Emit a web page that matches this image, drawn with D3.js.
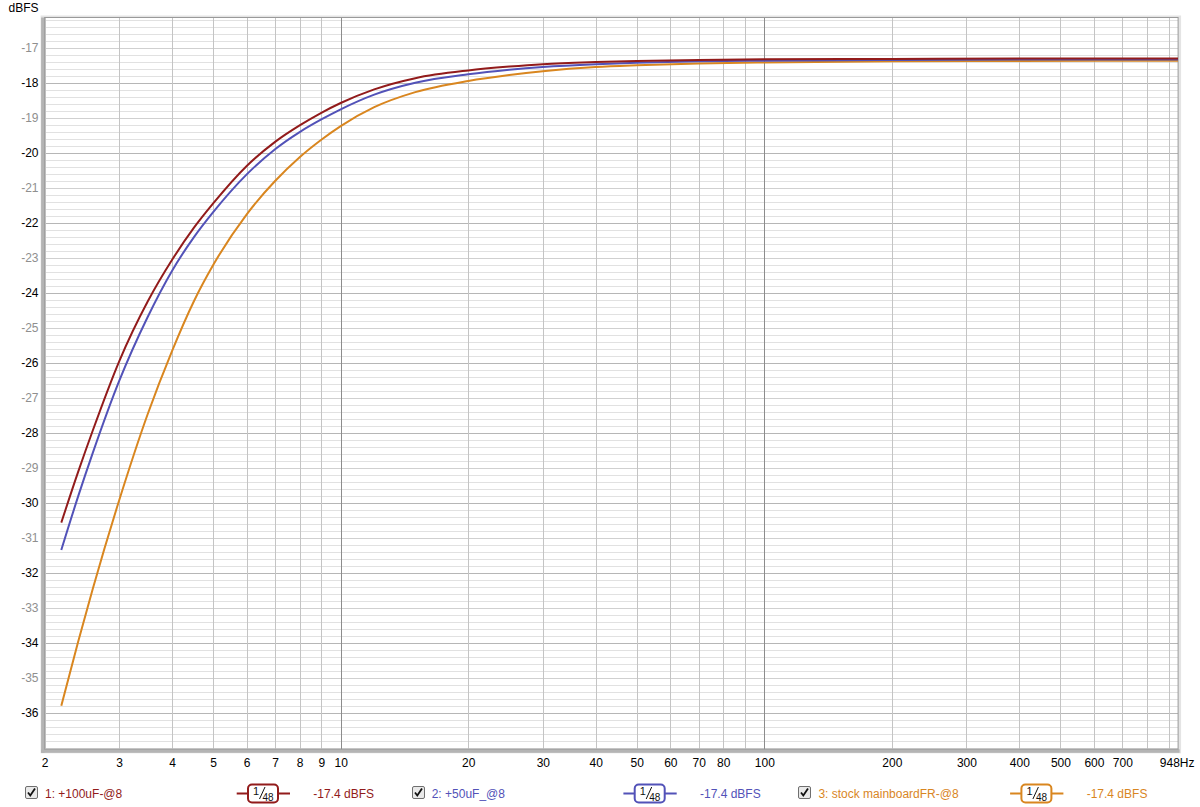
<!DOCTYPE html>
<html>
<head>
<meta charset="utf-8">
<script src="https://cdn.jsdelivr.net/npm/d3@7/dist/d3.min.js"></script>
<style>
  html, body { margin: 0; padding: 0; background: #ffffff; }
  svg { display: block; font-family: "Liberation Sans", Arial, sans-serif; }
</style>
</head>
<body>
<svg id="chart" width="1200" height="807"></svg>
<script>
// ---------------- DATA ----------------
const freqs = [2.19, 2.4, 2.6, 3, 3.5, 4, 4.5, 5, 6, 7, 8, 9, 10, 12, 15, 20, 25, 30, 40, 50, 70, 100, 200, 400, 948];

const series1Name = "1: +100uF-@8";
const series1Values = [-30.57, -29.12, -27.93, -25.96, -24.26, -23.06, -22.15, -21.45, -20.38, -19.69, -19.22, -18.86, -18.58, -18.19, -17.87, -17.65, -17.54, -17.47, -17.41, -17.38, -17.35, -17.33, -17.32, -17.31, -17.31];

const series2Name = "2: +50uF_@8";
const series2Values = [-31.35, -29.82, -28.57, -26.52, -24.70, -23.37, -22.42, -21.70, -20.62, -19.90, -19.41, -19.05, -18.76, -18.34, -18.00, -17.76, -17.63, -17.55, -17.47, -17.43, -17.39, -17.37, -17.35, -17.34, -17.34];

const series3Name = "3: stock mainboardFR-@8";
const series3Values = [-35.80, -33.97, -32.45, -29.93, -27.48, -25.66, -24.25, -23.21, -21.76, -20.81, -20.13, -19.63, -19.24, -18.70, -18.27, -17.95, -17.78, -17.67, -17.55, -17.50, -17.45, -17.42, -17.39, -17.38, -17.37];

const legendValues = ["-17.4 dBFS", "-17.4 dBFS", "-17.4 dBFS"];
const smoothingLabel = ["1", "48"];

const xGridValues = [2,3,4,5,6,7,8,9,10,20,30,40,50,60,70,80,90,100,200,300,400,500,600,700,800,900];
const xMajorGrid = [10, 100];
const xTickValues = [2,3,4,5,6,7,8,9,10,20,30,40,50,60,70,80,100,200,300,400,500,600,700];
const xTickLabels = ["2","3","4","5","6","7","8","9","10","20","30","40","50","60","70","80","100","200","300","400","500","600","700"];
const xEndLabel = "948Hz";
const xDomain = [2, 948];

const yTickValues = [-17,-18,-19,-20,-21,-22,-23,-24,-25,-26,-27,-28,-29,-30,-31,-32,-33,-34,-35,-36];
const yTickLabels = ["-17","-18","-19","-20","-21","-22","-23","-24","-25","-26","-27","-28","-29","-30","-31","-32","-33","-34","-35","-36"];
const yDomain = [-37.046, -16.137];
const yUnit = "dBFS";

// ---------------- LAYOUT ----------------
const plot = { left: 44.6, right: 1178.1, top: 17.5, bottom: 749.3 };
const colors = ["#921b1b", "#5252b8", "#d9861f"];

const svg = d3.select("#chart");
const x = d3.scaleLog().domain(xDomain).range([plot.left, plot.right]);
const y = d3.scaleLinear().domain(yDomain).range([plot.bottom, plot.top]);

// shadows around frame
svg.append("rect").attr("x", plot.left - 4).attr("y", plot.top - 2)
  .attr("width", plot.right - plot.left + 7).attr("height", plot.bottom - plot.top + 6)
  .attr("fill", "#e4e4e4");
svg.append("rect").attr("x", plot.left - 3.5).attr("y", plot.top)
  .attr("width", 3.5).attr("height", plot.bottom - plot.top + 3.5)
  .attr("fill", "#b4b4b4");
svg.append("rect").attr("x", plot.left - 3.5).attr("y", plot.bottom)
  .attr("width", plot.right - plot.left + 5).attr("height", 3.5)
  .attr("fill", "#b4b4b4");

// plot background
svg.append("rect").attr("x", plot.left).attr("y", plot.top)
  .attr("width", plot.right - plot.left).attr("height", plot.bottom - plot.top)
  .attr("fill", "#ffffff");

const grid = svg.append("g");
// horizontal minor grid every 0.2 dB
const minorY = d3.range(-37, -16.1, 0.2).map(v => Math.round(v * 10) / 10);
minorY.forEach(v => {
  const isInt = Math.abs(v - Math.round(v)) < 1e-6;
  let col = "#e1e1e1";
  if (isInt) col = (Math.round(v) % 2 === 0) ? "#b6b6b6" : "#d0d0d0";
  const yy = Math.round(y(v)) + 0.5;
  grid.append("line").attr("x1", plot.left).attr("x2", plot.right)
    .attr("y1", yy).attr("y2", yy).attr("stroke", col).attr("stroke-width", 1);
});
// vertical grid
xGridValues.forEach(f => {
  const xx = Math.round(x(f)) + 0.5;
  const major = xMajorGrid.includes(f);
  grid.append("line").attr("x1", xx).attr("x2", xx)
    .attr("y1", plot.top).attr("y2", plot.bottom)
    .attr("stroke", major ? "#8c8c8c" : "#c4c4c4").attr("stroke-width", 1);
});

// frame
svg.append("rect").attr("x", plot.left).attr("y", plot.top)
  .attr("width", plot.right - plot.left).attr("height", plot.bottom - plot.top)
  .attr("fill", "none").attr("stroke", "#9a9a9a").attr("stroke-width", 1);

// curves
const line = d3.line().x(d => x(d[0])).y(d => y(d[1])).curve(d3.curveMonotoneX);
const allSeries = [series3Values, series2Values, series1Values];
const allColors = [colors[2], colors[1], colors[0]];
svg.append("clipPath").attr("id", "clip").append("rect")
  .attr("x", plot.left).attr("y", plot.top)
  .attr("width", plot.right - plot.left).attr("height", plot.bottom - plot.top);
allSeries.forEach((vals, i) => {
  svg.append("path")
    .datum(freqs.map((f, k) => [f, vals[k]]))
    .attr("clip-path", "url(#clip)")
    .attr("d", line)
    .attr("fill", "none")
    .attr("stroke", allColors[i])
    .attr("stroke-width", 2)
    .attr("stroke-linejoin", "round");
});

// Y axis labels
const yAxis = svg.append("g").attr("font-size", 12);
yTickValues.forEach((v, i) => {
  yAxis.append("text")
    .attr("x", 38.5).attr("y", y(v) + 4.5)
    .attr("text-anchor", "end")
    .attr("fill", (v % 2 === 0) ? "#000000" : "#8f8f8f")
    .text(yTickLabels[i]);
});
svg.append("text").attr("x", 38.5).attr("y", 12).attr("text-anchor", "end")
  .attr("font-size", 12).attr("fill", "#000").text(yUnit);

// X axis labels
const xAxis = svg.append("g").attr("font-size", 12).attr("fill", "#000");
xTickValues.forEach((f, i) => {
  xAxis.append("text").attr("x", x(f) + 0.5).attr("y", 767)
    .attr("text-anchor", "middle").text(xTickLabels[i]);
});
xAxis.append("text").attr("x", 1194.5).attr("y", 767)
  .attr("text-anchor", "end").text(xEndLabel);

// Legend
const names = [series1Name, series2Name, series3Name];
const legendY = 793;
names.forEach((name, i) => {
  const tx = 45 + i * 386.7;
  const col = colors[i];
  const g = svg.append("g");
  const cb = g.append("g").attr("transform", `translate(${Math.round(tx - 20)},${legendY - 7})`);
  cb.append("rect").attr("x", 0.5).attr("y", 0.5).attr("width", 12).attr("height", 12)
    .attr("rx", 1.5).attr("fill", "#e9e9e9").attr("stroke", "#6f6f6f");
  cb.append("path").attr("d", "M3,6.5 L5.3,9.5 L10,2.5")
    .attr("fill", "none").attr("stroke", "#111").attr("stroke-width", 1.8);
  g.append("text").attr("x", tx).attr("y", legendY + 4.5).attr("font-size", 12)
    .attr("fill", col).text(name);
  g.append("line").attr("x1", tx + 191.7).attr("x2", tx + 245)
    .attr("y1", legendY + 0.5).attr("y2", legendY + 0.5)
    .attr("stroke", col).attr("stroke-width", 2);
  g.append("rect").attr("x", tx + 203).attr("y", legendY - 8.5)
    .attr("width", 30).attr("height", 18).attr("rx", 4)
    .attr("fill", "#ffffff").attr("stroke", col).attr("stroke-width", 2);
  g.append("text").attr("x", tx + 208).attr("y", legendY + 2).attr("font-size", 11)
    .attr("fill", "#111").text(smoothingLabel[0]);
  g.append("path").attr("d", `M${tx + 220},${legendY - 6} L${tx + 214.5},${legendY + 6}`)
    .attr("stroke", "#111").attr("stroke-width", 1).attr("fill", "none");
  g.append("text").attr("x", tx + 217.5).attr("y", legendY + 7.5).attr("font-size", 10)
    .attr("fill", "#111").text(smoothingLabel[1]);
  g.append("text").attr("x", tx + 268.3).attr("y", legendY + 4.5).attr("font-size", 12)
    .attr("fill", col).text(legendValues[i]);
});
</script>
</body>
</html>
